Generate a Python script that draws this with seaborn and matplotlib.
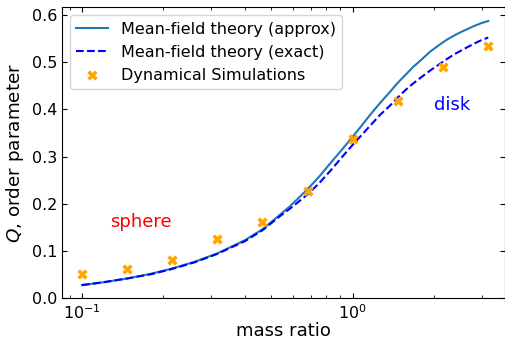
import matplotlib
matplotlib.use("Agg")
import matplotlib.pyplot as plt
import seaborn as sns

# Mean-field theory curves (order parameter vs. mass ratio)
theory_ratio = [0.100, 0.120, 0.147, 0.180, 0.215, 0.260, 0.316, 0.400, 0.464, 0.539,
                0.587, 0.630, 0.681, 0.750, 0.830, 0.910, 1.000, 1.080, 1.158, 1.260,
                1.373, 1.460, 1.560, 1.674, 1.800, 1.930, 2.070, 2.220, 2.380, 2.560,
                2.700, 2.850, 3.000, 3.165]
q_approx = [0.028, 0.034, 0.042, 0.052, 0.063, 0.077, 0.095, 0.123, 0.146, 0.177,
            0.195, 0.212, 0.231, 0.257, 0.287, 0.314, 0.342, 0.366, 0.388, 0.413,
            0.437, 0.455, 0.472, 0.490, 0.506, 0.522, 0.535, 0.547, 0.557, 0.566,
            0.572, 0.578, 0.583, 0.587]
q_exact = [0.028, 0.034, 0.042, 0.051, 0.062, 0.076, 0.094, 0.121, 0.144, 0.174,
           0.190, 0.204, 0.220, 0.243, 0.271, 0.298, 0.325, 0.346, 0.365, 0.388,
           0.408, 0.424, 0.440, 0.455, 0.469, 0.482, 0.494, 0.506, 0.517, 0.527,
           0.534, 0.541, 0.547, 0.552]

# Dynamical simulation results
sim_ratio = [0.100, 0.147, 0.215, 0.316, 0.464, 0.681, 1.000, 1.468, 2.154, 3.162]
sim_q = [0.052, 0.063, 0.082, 0.126, 0.162, 0.227, 0.337, 0.418, 0.490, 0.534]

fig = plt.figure(figsize=(5.06, 3.40), dpi=100)
ax = fig.add_axes([0.1225, 0.1226, 0.8755, 0.8559])

sns.lineplot(x=theory_ratio, y=q_approx, ax=ax, color="#1f77b4", linewidth=1.5,
             label="Mean-field theory (approx)", sort=True)
sns.lineplot(x=theory_ratio, y=q_exact, ax=ax, color="blue", linewidth=1.5,
             linestyle="--", label="Mean-field theory (exact)", sort=True)
sns.scatterplot(x=sim_ratio, y=sim_q, ax=ax, marker="X", color="orange", s=55,
                linewidth=0, label="Dynamical Simulations", zorder=3)

ax.set_xscale("log")
ax.set_xlim(0.0844, 3.65)
ax.set_ylim(0, 0.616)

ax.text(0.165, 0.150, "sphere", color="red", fontsize=13, ha="center", va="baseline")
ax.text(2.33, 0.399, "disk", color="blue", fontsize=13, ha="center", va="baseline")

ax.set_xlabel("mass ratio", fontsize=13, labelpad=0)
ax.set_ylabel("$Q$, order parameter", fontsize=13.2)
ax.tick_params(which="both", direction="in", top=True, right=True, labelsize=11.5)
ax.legend(loc="upper left", fontsize=11.5)

fig.savefig("out.png", dpi=100)
